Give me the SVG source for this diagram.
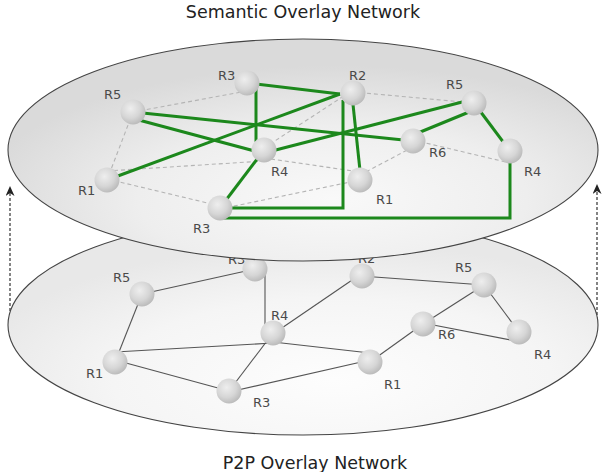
<svg xmlns="http://www.w3.org/2000/svg" width="602" height="472" viewBox="0 0 602 472">
  <defs>
    <style>
      .title { font-family: "DejaVu Sans", Verdana, sans-serif; font-size: 17.5px; fill: #222; }
      .lbl { font-family: "DejaVu Sans", Verdana, sans-serif; font-size: 13px; fill: #4a4a4a; }
      .plane { stroke: #444; stroke-width: 1.1; }
      .p2p { stroke: #555; stroke-width: 1.1; fill: none; }
      .dash { stroke: #b4b4b4; stroke-width: 1.1; stroke-dasharray: 4 3; fill: none; }
      .sem { stroke: #1c881c; stroke-width: 3; fill: none; }
      .arrow { stroke: #333; stroke-width: 1.2; stroke-dasharray: 3 2; fill: none; }
      .node { fill: url(#ball); }
    </style>
    <radialGradient id="topFill" cx="55%" cy="72%" r="60%">
      <stop offset="0" stop-color="#f9f9f9"/>
      <stop offset="0.55" stop-color="#eeeeee"/>
      <stop offset="1" stop-color="#dadada"/>
    </radialGradient>
    <radialGradient id="botFill" cx="55%" cy="75%" r="62%">
      <stop offset="0" stop-color="#fdfdfd"/>
      <stop offset="0.6" stop-color="#f5f5f5"/>
      <stop offset="1" stop-color="#e8e8e8"/>
    </radialGradient>
    <radialGradient id="ball" cx="40%" cy="36%" r="66%">
      <stop offset="0" stop-color="#eeeeee"/>
      <stop offset="0.6" stop-color="#d6d6d6"/>
      <stop offset="1" stop-color="#bababa"/>
    </radialGradient>
    <marker id="head" viewBox="0 0 10 9" refX="9" refY="4.5" markerWidth="10" markerHeight="9" markerUnits="userSpaceOnUse" orient="auto">
      <path d="M0,0 L10,4.5 L0,9 L3,4.5 Z" fill="#222"/>
    </marker>
  </defs>

  <rect width="602" height="472" fill="#ffffff"/>

  <!-- titles -->
  <text class="title" x="303" y="18" text-anchor="middle">Semantic Overlay Network</text>
  <text class="title" x="315" y="469" text-anchor="middle">P2P Overlay Network</text>

  <!-- vertical dashed arrows -->
  <g id="arrows">
    <line class="arrow" x1="10" y1="316" x2="10" y2="187" marker-end="url(#head)"/>
    <line class="arrow" x1="597" y1="320" x2="597" y2="185" marker-end="url(#head)"/>
  </g>

  <!-- ===== P2P layer ===== -->
  <g id="p2p-layer">
    <ellipse class="plane" cx="303" cy="325" rx="295" ry="110" fill="url(#botFill)"/>
    <g id="p2p-connectors">
      <line class="p2p" x1="142" y1="294" x2="255" y2="269"/>
      <line class="p2p" x1="265" y1="272" x2="265" y2="330"/>
      <line class="p2p" x1="142" y1="294" x2="115" y2="362"/>
      <line class="p2p" x1="115" y1="352" x2="273" y2="343"/>
      <line class="p2p" x1="115" y1="360" x2="229" y2="391"/>
      <line class="p2p" x1="229" y1="391" x2="273" y2="333"/>
      <line class="p2p" x1="229" y1="392" x2="370" y2="360"/>
      <line class="p2p" x1="273" y1="342" x2="370" y2="353"/>
      <line class="p2p" x1="276" y1="332" x2="358" y2="276"/>
      <line class="p2p" x1="361" y1="276" x2="484" y2="285"/>
      <line class="p2p" x1="370" y1="362" x2="423" y2="324"/>
      <line class="p2p" x1="423" y1="324" x2="484" y2="285"/>
      <line class="p2p" x1="484" y1="285" x2="519" y2="332"/>
      <line class="p2p" x1="423" y1="323" x2="516" y2="341"/>
    </g>
    <g id="p2p-R5"><circle class="node" cx="142" cy="294" r="12.5"/><text class="lbl" x="113" y="282">R5</text></g>
    <g id="p2p-R3a"><text class="lbl" x="228" y="264">R3</text><circle class="node" cx="255" cy="269" r="12.5"/></g>
    <g id="p2p-R2"><text class="lbl" x="358" y="263">R2</text><circle class="node" cx="362" cy="276" r="12.5"/></g>
    <g id="p2p-R4"><circle class="node" cx="273" cy="333" r="12.5"/><text class="lbl" x="271" y="320">R4</text></g>
    <g id="p2p-R1"><circle class="node" cx="115" cy="362" r="12.5"/><text class="lbl" x="86" y="378">R1</text></g>
    <g id="p2p-R3b"><circle class="node" cx="229" cy="391" r="12.5"/><text class="lbl" x="253" y="407">R3</text></g>
    <g id="p2p-R5b"><circle class="node" cx="484" cy="285" r="12.5"/><text class="lbl" x="455" y="272">R5</text></g>
    <g id="p2p-R6"><circle class="node" cx="423" cy="324" r="12.5"/><text class="lbl" x="438" y="339">R6</text></g>
    <g id="p2p-R4b"><circle class="node" cx="519" cy="332" r="12.5"/><text class="lbl" x="534" y="359">R4</text></g>
    <g id="p2p-R1b"><circle class="node" cx="370" cy="362" r="12.5"/><text class="lbl" x="384" y="389">R1</text></g>
  </g>

  <!-- ===== Semantic layer ===== -->
  <g id="semantic-layer">
    <ellipse class="plane" cx="303" cy="150" rx="295" ry="111" fill="url(#topFill)"/>
    <g id="semantic-connectors">
      <g id="underlay-links">
        <line class="dash" x1="133" y1="112" x2="247" y2="91"/>
        <line class="dash" x1="133" y1="112" x2="107" y2="180"/>
        <line class="dash" x1="107" y1="171" x2="264" y2="161"/>
        <line class="dash" x1="264" y1="158" x2="360" y2="172"/>
        <line class="dash" x1="107" y1="179" x2="220" y2="206"/>
        <line class="dash" x1="220" y1="209" x2="360" y2="180"/>
        <line class="dash" x1="264" y1="148" x2="353" y2="90"/>
        <line class="dash" x1="353" y1="92" x2="474" y2="103"/>
        <line class="dash" x1="360" y1="175" x2="413" y2="147"/>
        <line class="dash" x1="413" y1="140" x2="510" y2="163"/>
      </g>
      <g id="semantic-links">
        <line class="sem" x1="247" y1="83" x2="340" y2="94"/>
        <line class="sem" x1="256" y1="88" x2="256" y2="142"/>
        <line class="sem" x1="107" y1="180" x2="340" y2="94"/>
        <line class="sem" x1="133" y1="112" x2="413" y2="141"/>
        <line class="sem" x1="135" y1="119" x2="262" y2="153"/>
        <line class="sem" x1="264" y1="153" x2="470" y2="100"/>
        <line class="sem" x1="413" y1="135" x2="474" y2="110"/>
        <line class="sem" x1="474" y1="103" x2="510" y2="151"/>
        <line class="sem" x1="352" y1="95" x2="361" y2="180"/>
        <polyline class="sem" points="343,100 343,208 220,208"/>
        <polyline class="sem" points="510,151 510,218 222,218"/>
        <line class="sem" x1="264" y1="150" x2="220" y2="208"/>
      </g>
    </g>
    <g id="sem-R3a"><circle class="node" cx="247" cy="83" r="12.5"/><text class="lbl" x="218" y="80">R3</text></g>
    <g id="sem-R5"><circle class="node" cx="133" cy="112" r="12.5"/><text class="lbl" x="104" y="99">R5</text></g>
    <g id="sem-R1"><circle class="node" cx="107" cy="180" r="12.5"/><text class="lbl" x="78" y="195">R1</text></g>
    <g id="sem-R4"><circle class="node" cx="264" cy="150" r="12.5"/><text class="lbl" x="271" y="176">R4</text></g>
    <g id="sem-R3b"><circle class="node" cx="220" cy="208" r="12.5"/><text class="lbl" x="193" y="233">R3</text></g>
    <g id="sem-R2"><circle class="node" cx="353" cy="93" r="12.5"/><text class="lbl" x="349" y="80">R2</text></g>
    <g id="sem-R5b"><circle class="node" cx="474" cy="103" r="12.5"/><text class="lbl" x="446" y="89">R5</text></g>
    <g id="sem-R6"><circle class="node" cx="413" cy="141" r="12.5"/><text class="lbl" x="429" y="157">R6</text></g>
    <g id="sem-R4b"><circle class="node" cx="510" cy="151" r="12.5"/><text class="lbl" x="524" y="176">R4</text></g>
    <g id="sem-R1b"><circle class="node" cx="360" cy="180" r="12.5"/><text class="lbl" x="376" y="204">R1</text></g>
  </g>
</svg>
